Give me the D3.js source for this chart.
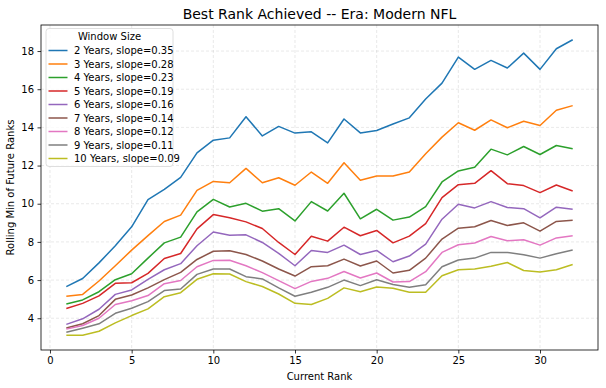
<!DOCTYPE html>
<html lang="en">
  <head>
    <meta charset="UTF-8" />
    <title>Best Rank Achieved</title>
    <script src="https://d3js.org/d3.v7.min.js"></script>
    <style>
      body { margin: 0; background: #fff; }
      text { font-family: 'DejaVu Sans', sans-serif; }
    </style>
  </head>

  <body>
    <div id="graph"></div>
    <script>
      const ranks = d3.range(1, 33)
      const windows = ['2 Years', '3 Years', '4 Years', '5 Years', '6 Years', '7 Years', '8 Years', '9 Years', '10 Years']
      const slopes = [0.35, 0.28, 0.23, 0.19, 0.16, 0.14, 0.12, 0.11, 0.09]
      const colors = ['#1f77b4', '#ff7f0e', '#2ca02c', '#d62728', '#9467bd', '#8c564b', '#e377c2', '#7f7f7f', '#bcbd22']

      const w2 = [5.66, 6.08, 6.9, 7.8, 8.79, 10.22, 10.75, 11.38, 12.66, 13.33, 13.45, 14.56, 13.55, 14.05, 13.7, 13.77,
        13.19, 14.44, 13.71, 13.84, 14.18, 14.5, 15.49, 16.32, 17.68, 17.04, 17.51, 17.11, 17.89, 17.04, 18.12, 18.59]
      const w3 = [5.15, 5.25, 5.95, 6.75, 7.57, 8.33, 9.07, 9.4, 10.7, 11.17, 11.1, 11.85, 11.1, 11.36, 10.97, 11.66,
        11.07, 12.15, 11.23, 11.45, 11.45, 11.66, 12.62, 13.49, 14.24, 13.85, 14.39, 13.98, 14.32, 14.1, 14.9, 15.14]
      const w4 = [4.75, 4.96, 5.39, 6.02, 6.33, 7.15, 7.95, 8.25, 9.57, 10.23, 9.83, 10.02, 9.61, 9.74, 9.1, 10.11,
        9.62, 10.55, 9.21, 9.71, 9.14, 9.3, 9.85, 11.14, 11.72, 11.91, 12.86, 12.56, 13.0, 12.58, 13.05, 12.88]
      const w5 = [4.51, 4.78, 5.17, 5.83, 5.86, 6.35, 7.13, 7.39, 8.68, 9.43, 9.27, 9.05, 8.7, 7.97, 7.34, 8.3,
        8.04, 8.77, 8.32, 8.6, 7.95, 8.3, 8.96, 10.32, 11.0, 11.07, 11.73, 11.05, 10.95, 10.58, 10.98, 10.67]
      const w6 = [3.68, 3.97, 4.47, 5.25, 5.48, 6.04, 6.54, 6.86, 7.8, 8.52, 8.35, 8.37, 7.97, 7.4, 6.75, 7.55,
        7.45, 7.83, 7.34, 7.55, 6.96, 7.26, 7.88, 9.19, 9.97, 9.78, 10.11, 9.8, 9.74, 9.26, 9.82, 9.71]
      const w7 = [3.49, 3.71, 4.14, 4.99, 5.22, 5.59, 6.02, 6.4, 7.08, 7.51, 7.54, 7.34, 7.0, 6.58, 6.21, 6.7,
        6.75, 7.1, 6.74, 7.0, 6.37, 6.51, 7.15, 8.15, 8.72, 8.79, 9.12, 8.86, 9.0, 8.56, 9.07, 9.14]
      const w8 = [3.43, 3.62, 4.0, 4.72, 4.92, 5.19, 5.81, 5.98, 6.7, 7.03, 7.04, 6.75, 6.39, 5.97, 5.55, 5.93,
        6.09, 6.45, 6.11, 6.37, 5.9, 5.92, 6.44, 7.45, 7.85, 7.94, 8.28, 8.06, 8.11, 7.83, 8.21, 8.32]
      const w9 = [3.27, 3.48, 3.71, 4.26, 4.52, 4.87, 5.45, 5.53, 6.3, 6.58, 6.58, 6.18, 6.06, 5.59, 5.15, 5.36,
        5.62, 6.0, 5.71, 6.02, 5.77, 5.62, 5.76, 6.7, 7.05, 7.15, 7.45, 7.45, 7.33, 7.15, 7.38, 7.57]
      const w10 = [3.11, 3.11, 3.32, 3.76, 4.14, 4.49, 5.13, 5.34, 6.04, 6.33, 6.32, 5.92, 5.66, 5.27, 4.78, 4.72,
        5.04, 5.59, 5.39, 5.64, 5.57, 5.36, 5.36, 6.23, 6.54, 6.58, 6.72, 6.92, 6.5, 6.42, 6.54, 6.82]
      const series = [w2, w3, w4, w5, w6, w7, w8, w9, w10]

      const xTicks = [0, 5, 10, 15, 20, 25, 30]
      const yTicks = [4, 6, 8, 10, 12, 14, 16, 18]

      const width = 606
      const height = 388
      const plot = { left: 41, right: 598, top: 25, bottom: 350 }

      const svg = d3.select('#graph').append('svg').attr('width', width).attr('height', height)

      // 比例尺, 数据范围外留 5% 边距
      const xExt = d3.extent(ranks)
      const xPad = (xExt[1] - xExt[0]) * 0.05
      const xScale = d3.scaleLinear().domain([xExt[0] - xPad, xExt[1] + xPad]).range([plot.left, plot.right])
      const yExt = d3.extent(series.flat())
      const yPad = (yExt[1] - yExt[0]) * 0.05
      const yScale = d3.scaleLinear().domain([yExt[0] - yPad, yExt[1] + yPad]).range([plot.bottom, plot.top])

      // 网格
      const grid = svg.append('g').attr('stroke', '#b0b0b0').attr('stroke-opacity', 0.35).attr('stroke-width', 0.8).attr('stroke-dasharray', '3,2')
      grid.selectAll('.gx').data(xTicks).join('line')
        .attr('x1', (d) => xScale(d)).attr('x2', (d) => xScale(d))
        .attr('y1', plot.top).attr('y2', plot.bottom)
      grid.selectAll('.gy').data(yTicks).join('line')
        .attr('y1', (d) => yScale(d)).attr('y2', (d) => yScale(d))
        .attr('x1', plot.left).attr('x2', plot.right)

      // 折线
      const line = d3.line().x((d, i) => xScale(ranks[i])).y((d) => yScale(d))
      svg.append('g').selectAll('path').data(series).join('path')
        .attr('fill', 'none')
        .attr('stroke', (_, i) => colors[i])
        .attr('stroke-width', 1.5)
        .attr('stroke-linejoin', 'round')
        .attr('d', line)

      // 坐标轴
      const xAxis = d3.axisBottom(xScale).tickValues(xTicks).tickSize(3.5).tickPadding(3.5)
      const gx = svg.append('g').attr('transform', `translate(0, ${plot.bottom})`).call(xAxis)
      const yAxis = d3.axisLeft(yScale).tickValues(yTicks).tickSize(3.5).tickPadding(3.5)
      const gy = svg.append('g').attr('transform', `translate(${plot.left}, 0)`).call(yAxis)
      ;[gx, gy].forEach((g) => {
        g.select('.domain').remove()
        g.selectAll('.tick line').attr('stroke', '#000').attr('stroke-width', 0.8)
        g.selectAll('.tick text').attr('font-size', 10).attr('fill', '#000').attr('font-family', 'DejaVu Sans')
      })

      // 边框
      svg.append('rect')
        .attr('x', plot.left).attr('y', plot.top)
        .attr('width', plot.right - plot.left).attr('height', plot.bottom - plot.top)
        .attr('fill', 'none').attr('stroke', '#000').attr('stroke-width', 0.8)

      // 标题和轴标签
      svg.append('text').attr('x', (plot.left + plot.right) / 2).attr('y', 19)
        .attr('text-anchor', 'middle').attr('font-size', 14).text('Best Rank Achieved -- Era: Modern NFL')
      svg.append('text').attr('x', (plot.left + plot.right) / 2).attr('y', 380)
        .attr('text-anchor', 'middle').attr('font-size', 10).text('Current Rank')
      svg.append('text').attr('transform', `translate(14, ${(plot.top + plot.bottom) / 2}) rotate(-90)`)
        .attr('text-anchor', 'middle').attr('font-size', 10).text('Rolling Min of Future Ranks')

      // 图例
      const legend = svg.append('g').attr('transform', 'translate(46, 28.5)')
      legend.append('rect').attr('width', 127).attr('height', 138).attr('rx', 3)
        .attr('fill', '#fff').attr('fill-opacity', 0.8).attr('stroke', '#d6d6d6').attr('stroke-width', 0.8)
      legend.append('text').attr('x', 63.5).attr('y', 11.5).attr('text-anchor', 'middle').attr('font-size', 10).text('Window Size')
      const items = legend.selectAll('.item').data(windows).join('g')
        .attr('transform', (_, i) => `translate(0, ${22 + i * 13.5})`)
      items.append('line').attr('x1', 2.5).attr('x2', 21.5).attr('y1', 0).attr('y2', 0)
        .attr('stroke', (_, i) => colors[i]).attr('stroke-width', 1.5)
      items.append('text').attr('x', 28).attr('y', 3.6).attr('font-size', 10)
        .text((d, i) => `${d}, slope=${slopes[i].toFixed(2)}`)
    </script>
  </body>
</html>
